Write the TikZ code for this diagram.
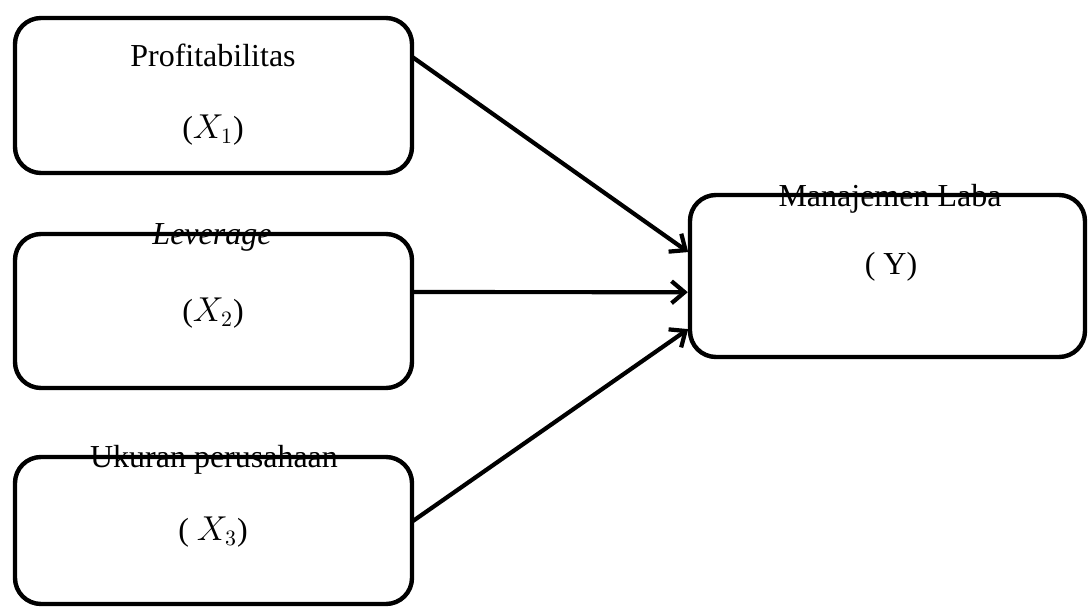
\documentclass[tikz,border=0pt]{standalone}
\usepackage{fontspec}
\setmainfont{Liberation Serif}
\usetikzlibrary{arrows.meta,calc}
\begin{document}
\begin{tikzpicture}[x=0.5pt,y=-0.5pt,
  varbox/.style={draw=black,line width=2.2pt,rounded corners=13pt,inner sep=0pt,outer sep=0pt},
  lbl/.style={inner sep=0pt,font=\fontsize{16}{19}\selectfont},
  conn/.style={line width=2.1pt,-{Straight Barb[length=6.5pt,width=11pt,line width=2.1pt]},shorten >=1.1pt}]
\useasboundingbox (0,0) rectangle (1089,610);
\node[varbox,minimum width=198.5pt,minimum height=77.5pt] (b1) at (213.5,95.5) {};
\node[varbox,minimum width=198.5pt,minimum height=77pt] (b2) at (213.5,311) {};
\node[varbox,minimum width=198.5pt,minimum height=73.5pt] (b3) at (213.5,530.5) {};
\node[varbox,minimum width=197.5pt,minimum height=81pt] (bY) at (887.5,276) {};
\node[lbl,anchor=base] (t1) at (213,67) {Profitabilitas};
\node[lbl] (s1) at (213,130) {($X_1$)};
\node[lbl,anchor=base] (t2) at (212,245) {\textit{Leverage}};
\node[lbl] (s2) at (213,313) {($X_2$)};
\node[lbl,anchor=base] (t3) at (214,467) {Ukuran perusahaan};
\node[lbl] (s3) at (213,532) {( $X_3$)};
\node[lbl,anchor=base] (tY) at (890,207) {Manajemen Laba};
\node[lbl] (sY) at (891,267) {( Y)};
\draw[conn] ($(b1.north east)!0.25!(b1.south east)$) -- ($(bY.north west)!0.36!(bY.south west)$);
\draw[conn] ($(b2.north east)!0.377!(b2.south east)$) -- ($(bY.north west)!0.6!(bY.south west)$);
\draw[conn] ($(b3.north east)!0.44!(b3.south east)$) -- ($(bY.north west)!0.82!(bY.south west)$);
\end{tikzpicture}
\end{document}
